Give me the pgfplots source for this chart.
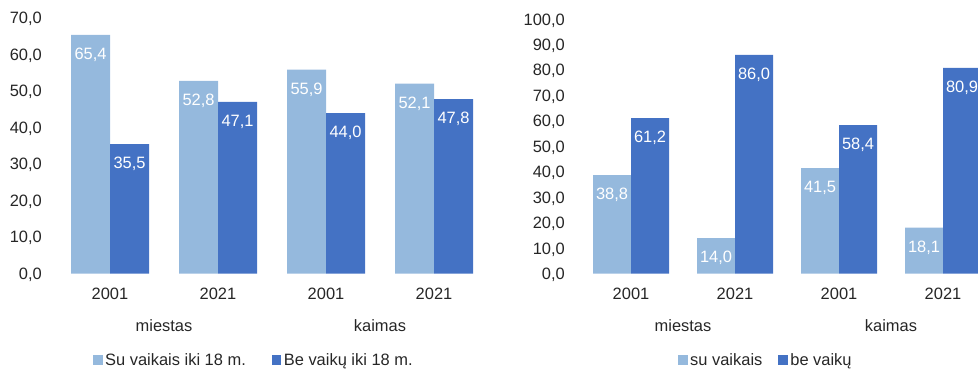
\documentclass[border=0pt]{standalone}
\usepackage{fontspec}
\setmainfont{Liberation Sans}
\usepackage{pgfplots}
\pgfplotsset{compat=1.18}
\definecolor{lightb}{HTML}{95B9DD}
\definecolor{darkb}{HTML}{4472C4}
\definecolor{txt}{HTML}{262626}
\pgfplotsset{
  barchart/.style={
    scale only axis,
    ybar=0pt,
    axis line style={draw=none},
    tick style={draw=none},
    major tick length=0pt,
    xmin=-0.5, xmax=3.5, ymin=0,
    xtick={0,1,2,3},
    xticklabels={2001,2021,2001,2021},
    extra x ticks={0.5,2.5},
    extra x tick labels={miestas,kaimas},
    extra x tick style={xticklabel style={yshift=-31bp}},
    xticklabel style={inner sep=0pt, yshift=-14.5bp, text=txt},
    yticklabel style={inner sep=0pt, xshift=-14bp, text depth=0pt, text=txt},
    /pgf/number format/.cd, fixed, fixed zerofill, precision=1, use comma, assume math mode=true,
    /pgfplots/.cd,
    nodes near coords,
    every node near coord/.append style={white, anchor=north, inner sep=0pt, yshift=-13bp},
    legend columns=2,
    legend image code/.code={\path[##1, draw=none] (0bp,-4.75bp) rectangle (9.5bp,4.75bp);},
    legend style={draw=none, fill=none, inner sep=0pt, nodes={inner sep=0pt, text=txt},
      /tikz/every odd column/.append style={column sep=2.5bp}},
  }
}
\begin{document}
\begin{tikzpicture}[x=1bp, y=1bp, font=\fontsize{16.5}{19.8}\selectfont]
\useasboundingbox (0,0) rectangle (978,368);
\clip (0,0) rectangle (978,368);
\begin{axis}[barchart,
  at={(56bp,94.3bp)}, anchor=south west,
  width=432bp, height=255.5bp,
  ymax=70, ytick={0,10,...,70},
  bar width=39bp,
  legend style={at={(axis description cs:0.0856,-0.338)}, anchor=west,
    /tikz/every even column/.append style={column sep=26bp}},
]
\addplot[fill=lightb, draw=none] coordinates {(0,65.4) (1,52.8) (2,55.9) (3,52.1)};
\addplot[fill=darkb, draw=none] coordinates {(0,35.5) (1,47.1) (2,44.0) (3,47.8)};
\legend{Su vaikais iki 18 m., Be vaikų iki 18 m.}
\end{axis}
\begin{axis}[barchart,
  at={(579bp,94.3bp)}, anchor=south west,
  width=416bp, height=254.3bp,
  ymax=100, ytick={0,10,...,100},
  bar width=38bp,
  legend style={at={(axis description cs:0.238,-0.339)}, anchor=west,
    /tikz/every even column/.append style={column sep=16bp}},
]
\addplot[fill=lightb, draw=none] coordinates {(0,38.8) (1,14.0) (2,41.5) (3,18.1)};
\addplot[fill=darkb, draw=none] coordinates {(0,61.2) (1,86.0) (2,58.4) (3,80.9)};
\legend{su vaikais, be vaikų}
\end{axis}
\end{tikzpicture}
\end{document}
